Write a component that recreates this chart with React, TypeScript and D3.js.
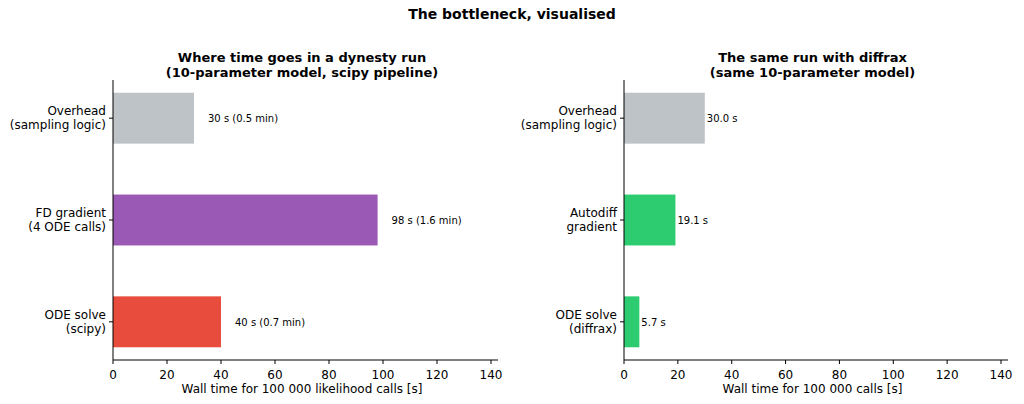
import * as d3 from 'd3';

const leftCats = ['ODE solve\n(scipy)', 'FD gradient\n(4 ODE calls)', 'Overhead\n(sampling logic)'];
const leftVals = [40, 98, 30];
const leftLabels = ['40 s  (0.7 min)', '98 s  (1.6 min)', '30 s  (0.5 min)'];
const leftColors = ['#e74c3c', '#9b59b6', '#bdc3c7'];

const rightCats = ['ODE solve\n(diffrax)', 'Autodiff\ngradient', 'Overhead\n(sampling logic)'];
const rightVals = [5.7, 19.1, 30.0];
const rightLabels = ['5.7 s', '19.1 s', '30.0 s'];
const rightColors = ['#2ecc71', '#2ecc71', '#bdc3c7'];

const xTicks = [0, 20, 40, 60, 80, 100, 120, 140];
const font = 'DejaVu Sans, sans-serif';

function Panel({ x0, x1, cats, vals, labels, colors, title, xlabel, pad }: any) {
  const x = d3.scaleLinear().domain([0, 140]).range([x0, x1]);
  const y = d3.scaleLinear().domain([-0.375, 2.375]).range([360, 80]);
  const bh = y(0) - y(0.5);
  const cx = (x0 + x1) / 2;
  return (
    <g fontFamily={font}>
      {title.map((t: string, i: number) => (
        <text key={i} x={cx} y={62 + i * 15} textAnchor="middle" fontSize={13} fontWeight="bold">{t}</text>
      ))}
      {vals.map((v: number, i: number) => (
        <g key={i}>
          <rect x={x(0)} y={y(i) - bh / 2} width={x(v) - x(0)} height={bh} fill={colors[i]} />
          <text x={x(v) + pad} y={y(i) + 4} fontSize={10}>{labels[i]}</text>
          <line x1={x0 - 4} x2={x0} y1={y(i)} y2={y(i)} stroke="#000" />
          {cats[i].split('\n').map((l: string, j: number) => (
            <text key={j} x={x0 - 7} y={y(i) - 3 + j * 14} textAnchor="end" fontSize={12}>{l}</text>
          ))}
        </g>
      ))}
      <line x1={x0} x2={x0} y1={80} y2={360} stroke="#000" />
      <line x1={x0} x2={x1 + 7} y1={360} y2={360} stroke="#000" />
      {xTicks.map((t) => (
        <g key={t}>
          <line x1={x(t)} x2={x(t)} y1={360} y2={364} stroke="#000" />
          <text x={x(t)} y={379} textAnchor="middle" fontSize={12}>{t}</text>
        </g>
      ))}
      <text x={cx} y={393} textAnchor="middle" fontSize={12}>{xlabel}</text>
    </g>
  );
}

export default function App() {
  return (
    <svg width={1024} height={404} style={{ position: 'absolute', left: 0, top: 0 }}>
      <rect width={1024} height={404} fill="#fff" />
      <text x={512} y={19} textAnchor="middle" fontSize={14} fontWeight="bold" fontFamily={font}>The bottleneck, visualised</text>
      <Panel x0={113} x1={491} cats={leftCats} vals={leftVals} labels={leftLabels} colors={leftColors}
        title={['Where time goes in a dynesty run', '(10-parameter model, scipy pipeline)']}
        xlabel="Wall time for 100 000 likelihood calls [s]" pad={14} />
      <Panel x0={624} x1={1001} cats={rightCats} vals={rightVals} labels={rightLabels} colors={rightColors}
        title={['The same run with diffrax', '(same 10-parameter model)']}
        xlabel="Wall time for 100 000 calls [s]" pad={2} />
    </svg>
  );
}
